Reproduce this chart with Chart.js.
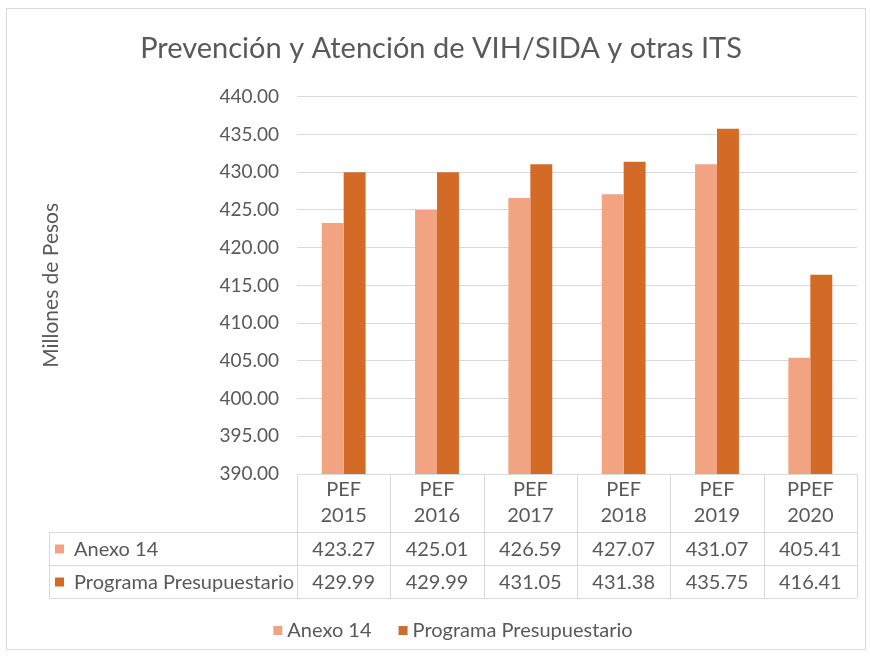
<!DOCTYPE html>
<html>
<head>
<meta charset="utf-8">
<script src="https://cdn.jsdelivr.net/npm/chart.js@4"></script>
<style>
  body { margin: 0; background: #fff; }
  #frame { position: absolute; left: 6px; top: 8px; width: 858px; height: 640px; border: 1px solid #d9d9d9; }
</style>
</head>
<body>
<div id="frame"><canvas id="chart" width="858" height="640"></canvas></div>
<script>
// data
const categoryTop = ['PEF', 'PEF', 'PEF', 'PEF', 'PEF', 'PPEF'];
const categoryYear = ['2015', '2016', '2017', '2018', '2019', '2020'];
const anexo14 = [423.27, 425.01, 426.59, 427.07, 431.07, 405.41];
const programa = [429.99, 429.99, 431.05, 431.38, 435.75, 416.41];
const seriesNames = ['Anexo 14', 'Programa Presupuestario'];
const colors = ['rgb(241,163,130)', 'rgb(211,106,38)'];

const fontFam = 'Lato, "Open Sans", sans-serif';
const textColor = '#595959';
const lineColor = '#d9d9d9';

// data table under the plot + legend at the bottom
const tablePlugin = {
  id: 'dataTable',
  afterDraw(chart) {
    const ctx = chart.ctx;
    const x = chart.scales.x;
    const area = chart.chartArea;
    const n = categoryYear.length;
    const step = x.getPixelForValue(1) - x.getPixelForValue(0);
    const left = x.getPixelForValue(0) - step / 2;
    const right = x.getPixelForValue(n - 1) + step / 2;
    const top = area.bottom;
    const headH = 58, rowH = 33;
    const r1 = top + headH, r2 = r1 + rowH, r3 = r2 + rowH;
    const labelLeft = 42;

    ctx.save();
    ctx.strokeStyle = lineColor;
    ctx.lineWidth = 1;
    ctx.beginPath();
    ctx.moveTo(left, top + 0.5); ctx.lineTo(right, top + 0.5);
    [r1, r2, r3].forEach(y => { ctx.moveTo(labelLeft, y + 0.5); ctx.lineTo(right, y + 0.5); });
    ctx.moveTo(labelLeft + 0.5, r1); ctx.lineTo(labelLeft + 0.5, r3);
    for (let i = 0; i <= n; i++) {
      const xx = Math.round(left + step * i) + 0.5;
      ctx.moveTo(xx, top); ctx.lineTo(xx, r3);
    }
    ctx.stroke();

    ctx.fillStyle = textColor;
    ctx.font = '20px ' + fontFam;
    ctx.textAlign = 'center';
    ctx.textBaseline = 'middle';
    for (let i = 0; i < n; i++) {
      const cx = x.getPixelForValue(i);
      ctx.fillText(categoryTop[i], cx, top + 16);
      ctx.fillText(categoryYear[i], cx, top + 42);
      ctx.fillText(anexo14[i].toFixed(2), cx, r1 + rowH / 2 + 1);
      ctx.fillText(programa[i].toFixed(2), cx, r2 + rowH / 2 + 1);
    }
    ctx.textAlign = 'left';
    [r1, r2].forEach((y, k) => {
      ctx.fillStyle = colors[k];
      ctx.fillRect(labelLeft + 6, y + rowH / 2 - 4, 9, 9);
      ctx.fillStyle = textColor;
      ctx.fillText(seriesNames[k], labelLeft + 25, y + rowH / 2 + 1);
    });

    // legend
    const w0 = ctx.measureText(seriesNames[0]).width;
    const w1 = ctx.measureText(seriesNames[1]).width;
    const box = 9, gap = 5, itemGap = 27;
    const total = box + gap + w0 + itemGap + box + gap + w1;
    let lx = 446 - total / 2;
    const ly = 622;
    [w0, w1].forEach((w, k) => {
      ctx.fillStyle = colors[k];
      ctx.fillRect(lx, ly - 5, box, box);
      ctx.fillStyle = textColor;
      ctx.fillText(seriesNames[k], lx + box + gap, ly);
      lx += box + gap + w + itemGap;
    });
    ctx.restore();
  }
};

new Chart(document.getElementById('chart'), {
  type: 'bar',
  data: {
    labels: categoryYear,
    datasets: [
      { label: seriesNames[0], data: anexo14, backgroundColor: colors[0] },
      { label: seriesNames[1], data: programa, backgroundColor: colors[1] }
    ]
  },
  options: {
    responsive: false,
    animation: false,
    layout: { padding: { left: 18, right: 8, bottom: 0 } },
    datasets: { bar: { categoryPercentage: 0.47, barPercentage: 1.0 } },
    plugins: {
      title: {
        display: true,
        text: 'Prevención y Atención de VIH/SIDA y otras ITS',
        color: textColor,
        font: { family: fontFam, size: 29, weight: 'normal' },
        padding: { top: 22, bottom: 31 }
      },
      legend: { display: false },
      tooltip: { enabled: false }
    },
    scales: {
      x: {
        grid: { display: false },
        border: { display: false },
        ticks: { display: false },
        afterFit(scale) { scale.height = 175; }
      },
      y: {
        min: 390,
        max: 440,
        ticks: {
          stepSize: 5,
          color: textColor,
          font: { family: fontFam, size: 19 },
          padding: 18,
          callback: v => v.toFixed(2)
        },
        grid: { color: lineColor, drawTicks: false },
        border: { display: false },
        title: {
          display: true,
          text: 'Millones de Pesos',
          color: textColor,
          font: { family: fontFam, size: 21 },
          padding: { top: 14, bottom: 0 }
        },
        afterFit(scale) { scale.width = 272; }
      }
    }
  },
  plugins: [tablePlugin]
});
</script>
</body>
</html>
